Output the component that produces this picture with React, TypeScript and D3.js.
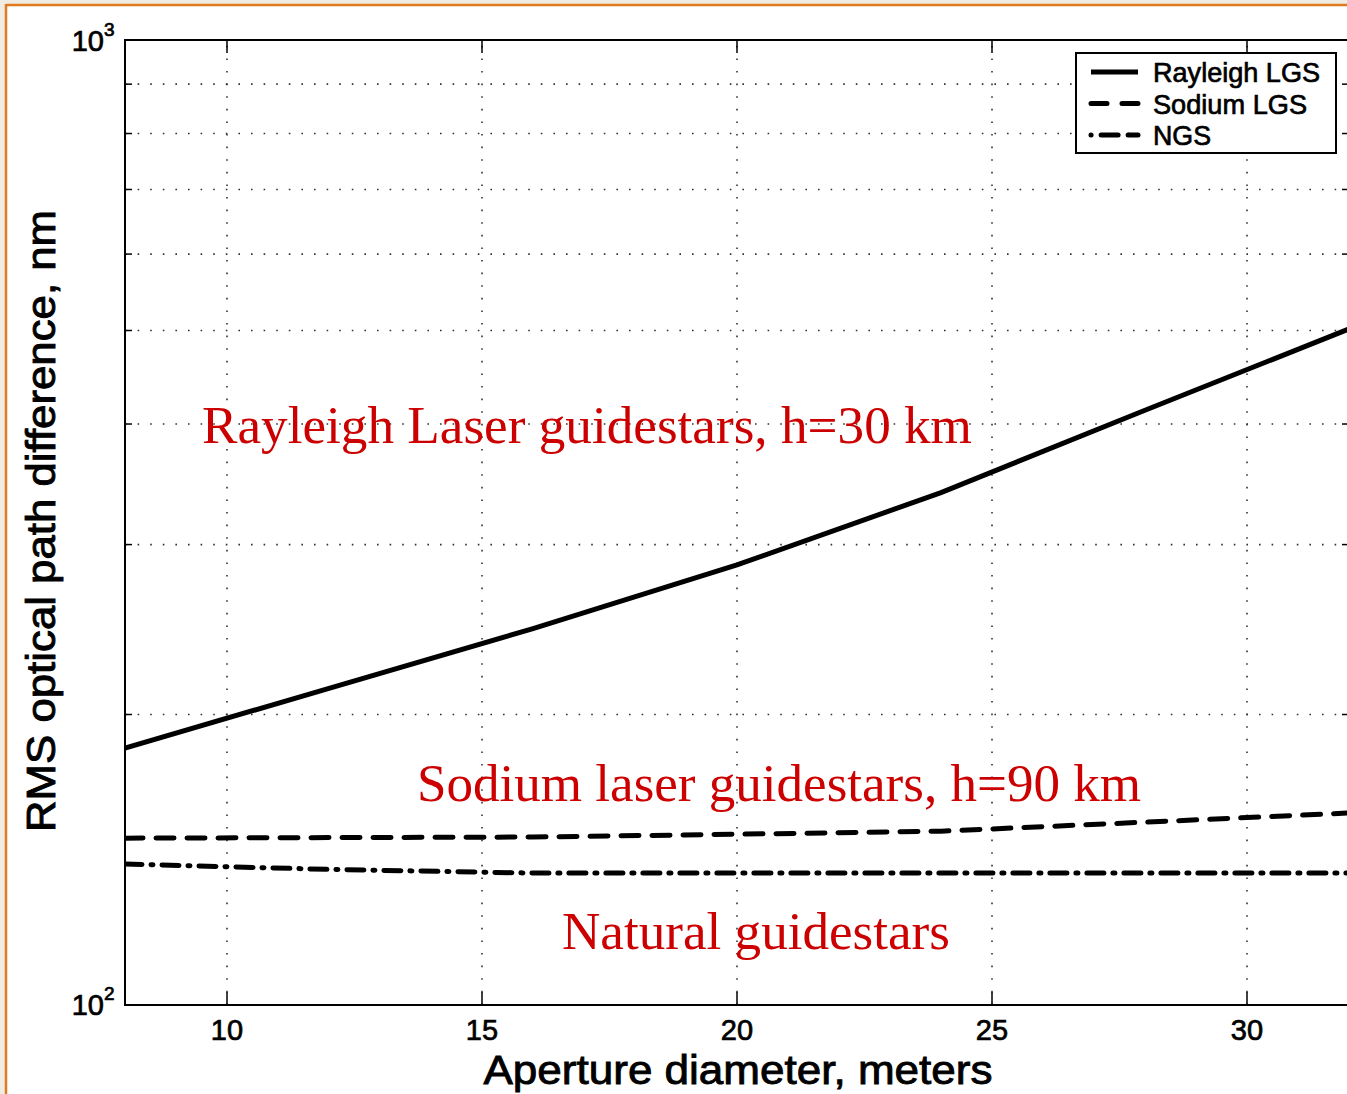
import React from "react";
import * as d3 from "d3";

// Aperture diameters (m) at which the curves are evaluated
const diameters = [8, 12, 16, 20, 24, 28, 32];
// RMS optical path difference, nm
const rayleighLGS = [184.6, 212.9, 245.5, 285.8, 339.6, 413.4, 501.8];
const sodiumLGS = [148.9, 149.1, 149.3, 150.3, 151.4, 154.7, 158.1];
const ngs = [140.0, 138.2, 137.0, 137.0, 137.0, 137.0, 137.0];

const xTicks = [10, 15, 20, 25, 30];
const yMinor = [200, 300, 400, 500, 600, 700, 800, 900];
const legendLabels = ["Rayleigh LGS", "Sodium LGS", "NGS"];

const W = 1347;
const H = 1094;
const plot = { left: 125, top: 40, right: 1349, bottom: 1005 };

const x = d3.scaleLinear().domain([8, 32]).range([plot.left, plot.right]);
const y = d3.scaleLog().domain([100, 1000]).range([plot.bottom, plot.top]);

const line = d3
  .line<number>()
  .x((_, i) => x(diameters[i]))
  .y((v) => y(v));

const sans = "'Liberation Sans', Arial, Helvetica, sans-serif";
const serif = "'Liberation Serif', 'Times New Roman', serif";
const red = "#cc0000";

const styles = [
  { dash: undefined as string | undefined, width: 5 },
  { dash: "18,13", width: 5 },
  { dash: "17,9,2,9", width: 5 },
];

export default function App() {
  const series = [rayleighLGS, sodiumLGS, ngs];
  return (
    <svg
      width={W}
      height={H}
      style={{ position: "absolute", left: 0, top: 0, display: "block" }}
    >
      <defs>
        <clipPath id="plotClip">
          <rect
            x={plot.left}
            y={plot.top}
            width={plot.right - plot.left}
            height={plot.bottom - plot.top}
          />
        </clipPath>
      </defs>
      {/* page backdrop and orange frame */}
      <rect x={0} y={0} width={W} height={H} fill="#f1ece2" />
      <rect x={6} y={4} width={W} height={H} fill="#ffffff" />
      <line x1={6} y1={5} x2={W} y2={5} stroke="#e07a1f" strokeWidth={2.5} />
      <line x1={6} y1={4} x2={6} y2={H} stroke="#e07a1f" strokeWidth={2.5} />

      {/* dotted grid */}
      <g stroke="#333" strokeWidth={1.6} strokeDasharray="1.6,11">
        {xTicks.map((t) => (
          <line key={"gx" + t} x1={x(t)} x2={x(t)} y1={plot.bottom} y2={plot.top} />
        ))}
        {yMinor.map((t) => (
          <line key={"gy" + t} x1={plot.left} x2={plot.right} y1={y(t)} y2={y(t)} />
        ))}
      </g>

      {/* ticks */}
      <g stroke="#000" strokeWidth={1.5}>
        {xTicks.map((t) => (
          <g key={"tx" + t}>
            <line x1={x(t)} x2={x(t)} y1={plot.bottom} y2={plot.bottom - 13} />
            <line x1={x(t)} x2={x(t)} y1={plot.top} y2={plot.top + 13} />
          </g>
        ))}
        {yMinor.map((t) => (
          <g key={"ty" + t}>
            <line x1={plot.left} x2={plot.left + 7} y1={y(t)} y2={y(t)} />
            <line x1={plot.right} x2={plot.right - 7} y1={y(t)} y2={y(t)} />
          </g>
        ))}
      </g>

      {/* curves */}
      <g clipPath="url(#plotClip)" fill="none" stroke="#000" strokeLinecap="round">
        {series.map((s, i) => (
          <path
            key={"s" + i}
            d={line(s) || ""}
            strokeWidth={styles[i].width}
            strokeDasharray={styles[i].dash}
            strokeLinecap={i === 0 ? "butt" : "round"}
          />
        ))}
      </g>

      {/* axes box */}
      <rect
        x={plot.left}
        y={plot.top}
        width={plot.right - plot.left}
        height={plot.bottom - plot.top}
        fill="none"
        stroke="#000"
        strokeWidth={2}
      />

      {/* tick labels */}
      <g fontFamily={sans} fill="#000" stroke="#000" strokeWidth={0.7}>
        {xTicks.map((t) => (
          <text key={"lx" + t} x={x(t)} y={1040} textAnchor="middle" fontSize={29}>
            {t}
          </text>
        ))}
        <text x={104} y={51} textAnchor="end" fontSize={29}>10</text>
        <text x={104} y={36} fontSize={19}>3</text>
        <text x={104} y={1015} textAnchor="end" fontSize={29}>10</text>
        <text x={104} y={1000} fontSize={19}>2</text>
      </g>

      {/* axis titles */}
      <g fontFamily={sans} fill="#000" stroke="#000" strokeWidth={0.9}>
        <text
          x={738}
          y={1084}
          textAnchor="middle"
          fontSize={41}
          textLength={509}
          lengthAdjust="spacingAndGlyphs"
        >
          Aperture diameter, meters
        </text>
        <text
          transform="translate(55,521) rotate(-90)"
          textAnchor="middle"
          fontSize={40}
          textLength={622}
          lengthAdjust="spacingAndGlyphs"
        >
          RMS optical path difference, nm
        </text>
      </g>

      {/* annotations */}
      <g fontFamily={serif} fontSize={52} fill={red}>
        <text x={202} y={443} textLength={770} lengthAdjust="spacingAndGlyphs">
          Rayleigh Laser guidestars, h=30 km
        </text>
        <text x={417} y={801} textLength={724} lengthAdjust="spacingAndGlyphs">
          Sodium laser guidestars, h=90 km
        </text>
        <text x={562} y={949} textLength={388} lengthAdjust="spacingAndGlyphs">
          Natural guidestars
        </text>
      </g>

      {/* legend */}
      <g>
        <rect x={1076} y={53} width={260} height={100} fill="#fff" stroke="#000" strokeWidth={2} />
        {legendLabels.map((lab, i) => {
          const ly = 72 + i * 31.5;
          const widths = [167, 154, 58];
          return (
            <g key={lab}>
              <line
                x1={1091}
                x2={1138}
                y1={ly}
                y2={ly}
                stroke="#000"
                strokeWidth={5}
                strokeDasharray={
                  i === 0 ? undefined : i === 1 ? "16,15" : "0.1,10,17,10,0.1"
                }
                strokeLinecap={i === 0 ? "butt" : "round"}
              />
              <text
                x={1153}
                y={ly + 10}
                fontFamily={sans}
                fontSize={28}
                fill="#000"
                stroke="#000"
                strokeWidth={0.7}
                textLength={widths[i]}
                lengthAdjust="spacingAndGlyphs"
              >
                {lab}
              </text>
            </g>
          );
        })}
      </g>
    </svg>
  );
}
